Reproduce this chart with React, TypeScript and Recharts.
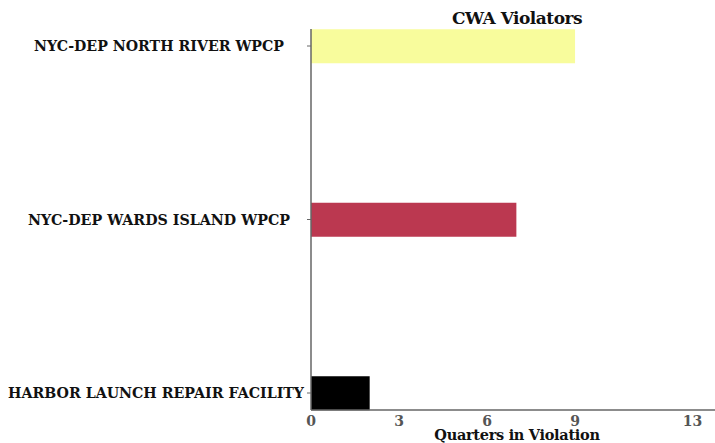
import { BarChart, Bar, XAxis, YAxis, Cell } from "recharts";

const facilities = [
  "NYC-DEP NORTH RIVER WPCP",
  "NYC-DEP WARDS ISLAND WPCP",
  "HARBOR LAUNCH REPAIR FACILITY",
];
const quarters = [9, 7, 2];
const barColors = ["#f8fc9c", "#bb3850", "#000000"];
const xTicks = [0, 3, 6, 9, 13];

const data = facilities.map((name, i) => ({ name, value: quarters[i] }));

// label look in the reference: right edge shift and drawn width
const labelFit: Record<string, { shift: number; width: number }> = {
  "NYC-DEP NORTH RIVER WPCP": { shift: -21, width: 250 },
  "NYC-DEP WARDS ISLAND WPCP": { shift: -15, width: 262 },
  "HARBOR LAUNCH REPAIR FACILITY": { shift: -1, width: 296 },
};

const serif = "'DejaVu Serif', serif";

function FacilityTick(props: any) {
  const { x, y, payload } = props;
  const fit = labelFit[payload.value] || { shift: 0, width: undefined };
  return (
    <text
      x={x + fit.shift}
      y={y}
      dy={5}
      textAnchor="end"
      textLength={fit.width}
      lengthAdjust="spacingAndGlyphs"
      fontFamily={serif}
      fontWeight="bold"
      fontSize={14}
      fill="#111"
    >
      {payload.value}
    </text>
  );
}

export default function App() {
  return (
    <div style={{ position: "absolute", left: 0, top: 0, width: 715, height: 443, background: "#fff" }}>
      <div
        style={{
          position: "absolute",
          left: 311,
          width: 412,
          top: 8,
          textAlign: "center",
          fontFamily: serif,
          fontWeight: "bold",
          fontSize: 17,
          color: "#111",
          letterSpacing: -0.5,
        }}
      >
        CWA Violators
      </div>
      <BarChart
        width={715}
        height={443}
        data={data}
        layout="vertical"
        margin={{ top: 29, right: 0, left: 0, bottom: 0 }}
      >
        <XAxis
          type="number"
          domain={[0, 13.77]}
          ticks={xTicks}
          allowDataOverflow
          height={33}
          tickLine={false}
          axisLine={{ stroke: "#666", strokeWidth: 1.5 }}
          tick={{ fill: "#555", fontSize: 14, fontWeight: "bold", fontFamily: serif }}
          tickMargin={0}
          label={{
            value: "Quarters in Violation",
            position: "insideBottom",
            offset: 3,
            fill: "#111",
            fontSize: 14.5,
            fontWeight: "bold",
            fontFamily: serif,
            letterSpacing: -0.3,
            dx: 4,
          }}
        />
        <YAxis
          type="category"
          dataKey="name"
          width={311}
          padding={{ top: -69.75, bottom: -69.75 }}
          tickSize={4}
          tickLine={{ stroke: "#666" }}
          axisLine={{ stroke: "#666", strokeWidth: 1.5 }}
          tick={<FacilityTick />}
        />
        <Bar dataKey="value" barSize={34} isAnimationActive={false}>
          {data.map((d, i) => (
            <Cell key={d.name} fill={barColors[i]} />
          ))}
        </Bar>
      </BarChart>
    </div>
  );
}
